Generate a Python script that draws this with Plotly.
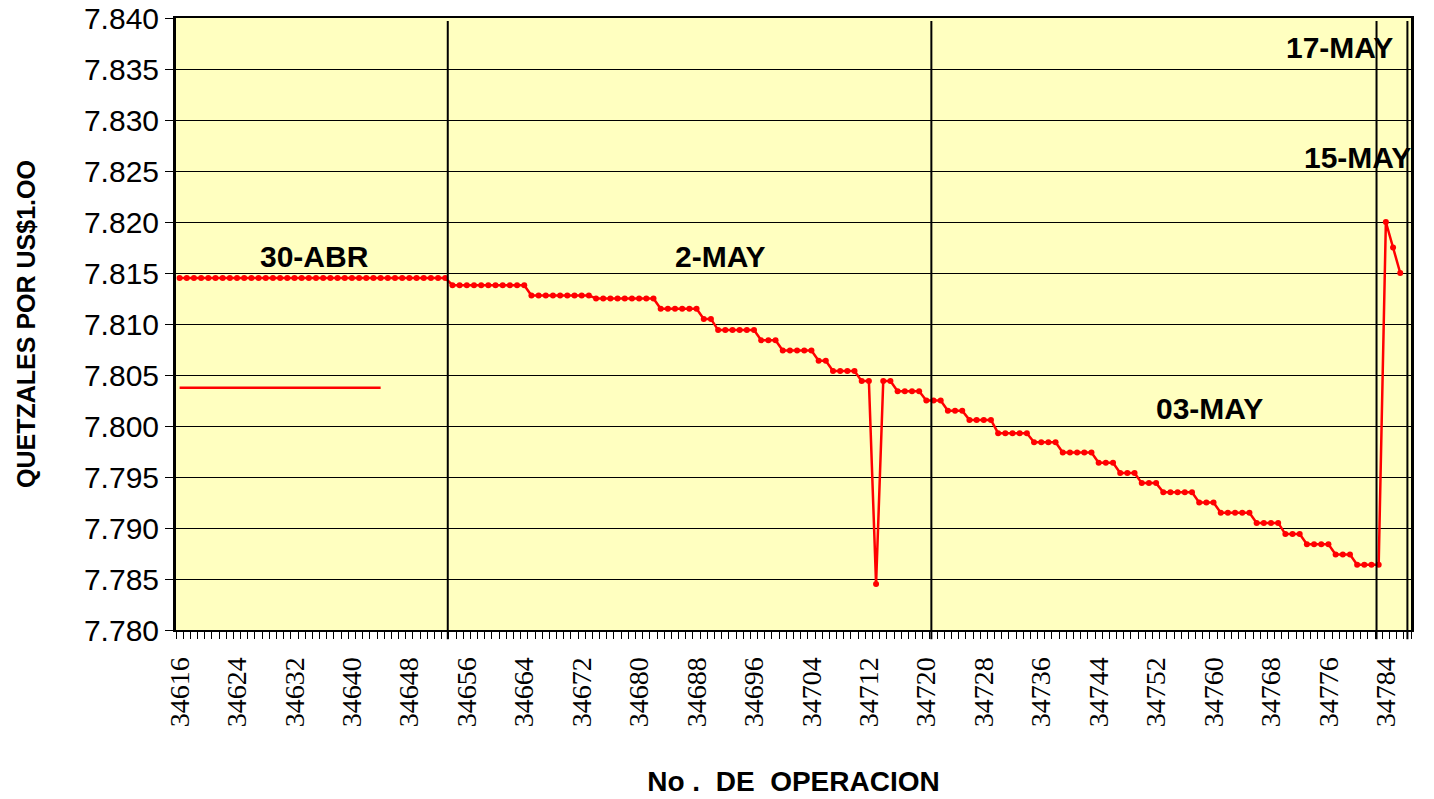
import plotly.graph_objects as go

# ---- data ----
operacion = list(range(34616, 34787))
tipo_cambio = [
    # 30-ABR
    7.8145, 7.8145, 7.8145, 7.8145, 7.8145, 7.8145, 7.8145, 7.8145, 7.8145, 7.8145,
    7.8145, 7.8145, 7.8145, 7.8145, 7.8145, 7.8145, 7.8145, 7.8145, 7.8145, 7.8145,
    7.8145, 7.8145, 7.8145, 7.8145, 7.8145, 7.8145, 7.8145, 7.8145, 7.8145, 7.8145,
    7.8145, 7.8145, 7.8145, 7.8145, 7.8145, 7.8145, 7.8145, 7.8145,
    # 2-MAY
    7.8138, 7.8138, 7.8138, 7.8138, 7.8138, 7.8138, 7.8138, 7.8138, 7.8138, 7.8138, 7.8138,
    7.8128, 7.8128, 7.8128, 7.8128, 7.8128, 7.8128, 7.8128, 7.8128, 7.8128,
    7.8125, 7.8125, 7.8125, 7.8125, 7.8125, 7.8125, 7.8125, 7.8125, 7.8125,
    7.8115, 7.8115, 7.8115, 7.8115, 7.8115, 7.8115,
    7.8105, 7.8105,
    7.8094, 7.8094, 7.8094, 7.8094, 7.8094, 7.8094,
    7.8084, 7.8084, 7.8084,
    7.8074, 7.8074, 7.8074, 7.8074, 7.8074,
    7.8064, 7.8064,
    7.8054, 7.8054, 7.8054, 7.8054,
    7.8044, 7.8044,
    7.7845,
    7.8044, 7.8044,
    7.8034, 7.8034, 7.8034, 7.8034,
    # 03-MAY
    7.8025, 7.8025, 7.8025,
    7.8015, 7.8015, 7.8015,
    7.8006, 7.8006, 7.8006, 7.8006,
    7.7993, 7.7993, 7.7993, 7.7993, 7.7993,
    7.7984, 7.7984, 7.7984, 7.7984,
    7.7974, 7.7974, 7.7974, 7.7974, 7.7974,
    7.7964, 7.7964, 7.7964,
    7.7954, 7.7954, 7.7954,
    7.7944, 7.7944, 7.7944,
    7.7935, 7.7935, 7.7935, 7.7935, 7.7935,
    7.7925, 7.7925, 7.7925,
    7.7915, 7.7915, 7.7915, 7.7915, 7.7915,
    7.7905, 7.7905, 7.7905, 7.7905,
    7.7894, 7.7894, 7.7894,
    7.7884, 7.7884, 7.7884, 7.7884,
    7.7874, 7.7874, 7.7874,
    7.7864, 7.7864, 7.7864, 7.7864,
    # 15-MAY / 17-MAY
    7.8200, 7.8175, 7.8150,
]

ref_x = [34616, 34644]
ref_y = [7.80375, 7.80375]

day_breaks = [34653.35, 34720.7, 34782.7, 34787.0]

day_labels = ["30-ABR", "2-MAY", "03-MAY", "17-MAY", "15-MAY"]
day_label_x = [34634.8, 34691.3, 34759.5, 34777.6, 34780.0]
day_label_y = [7.8166, 7.8166, 7.8017, 7.8371, 7.8263]

y_ticks = [7.780, 7.785, 7.790, 7.795, 7.800, 7.805, 7.810, 7.815, 7.820, 7.825, 7.830, 7.835, 7.840]
x_tick_vals = list(range(34616, 34787, 8))

SANS = "Liberation Sans, Arial, sans-serif"
SERIF = "Liberation Serif, Times New Roman, serif"

fig = go.Figure()
fig.add_trace(go.Scatter(
    x=operacion, y=tipo_cambio, mode="lines+markers",
    line=dict(color="#FF0000", width=2.5),
    marker=dict(color="#FF0000", size=6, symbol="circle"),
    showlegend=False, cliponaxis=False,
))
fig.add_trace(go.Scatter(
    x=ref_x, y=ref_y, mode="lines",
    line=dict(color="#FF0000", width=2.5),
    showlegend=False,
))

for xb in day_breaks:
    fig.add_shape(type="line", xref="x", yref="paper", x0=xb, x1=xb, y0=-0.015, y1=0.995,
                  line=dict(color="black", width=2))

for t, ax, ay in zip(day_labels, day_label_x, day_label_y):
    fig.add_annotation(x=ax, y=ay, xref="x", yref="y", text=t, showarrow=False,
                       font=dict(family=SANS, size=30, color="black", weight="bold"),
                       xanchor="center", yanchor="middle")

fig.update_layout(
    width=1434, height=799,
    margin=dict(l=176, r=23, t=18, b=169),
    paper_bgcolor="white",
    plot_bgcolor="#FFFFC0",
    xaxis=dict(
        automargin=False,
        range=[34615.5, 34787.5],
        tickmode="array", tickvals=x_tick_vals,
        ticktext=[str(v) for v in x_tick_vals],
        tickangle=-90,
        ticks="", showgrid=False, zeroline=False,
        tickfont=dict(family=SERIF, size=28, color="black"),
        ticklabelstandoff=14,
        minor=dict(tickmode="linear", tick0=34615.5, dtick=1, ticks="outside",
                   ticklen=7, tickcolor="black", tickwidth=1, showgrid=False),
        showline=True, linecolor="black", linewidth=2, mirror=True,
        title=dict(text="No .  DE  OPERACION", standoff=45,
                   font=dict(family=SANS, size=28, color="black", weight="bold")),
    ),
    yaxis=dict(
        automargin=False,
        range=[7.780, 7.840],
        tickmode="array", tickvals=y_ticks,
        ticktext=[f"{v:.3f}" for v in y_ticks],
        ticklabeloverflow="allow",
        ticks="outside", ticklen=8, tickcolor="black", tickwidth=1,
        showgrid=True, gridcolor="black", gridwidth=1, zeroline=False,
        showline=True, linecolor="black", linewidth=3, mirror=True,
        tickfont=dict(family=SANS, size=30, color="black"),
        title=dict(text="QUETZALES POR US$1.OO", standoff=42,
                   font=dict(family=SANS, size=25, color="black", weight="bold")),
    ),
)

fig.write_html("out.html", config={"displayModeBar": False},
               post_script="document.body.style.margin='0';document.body.style.overflow='hidden';")
